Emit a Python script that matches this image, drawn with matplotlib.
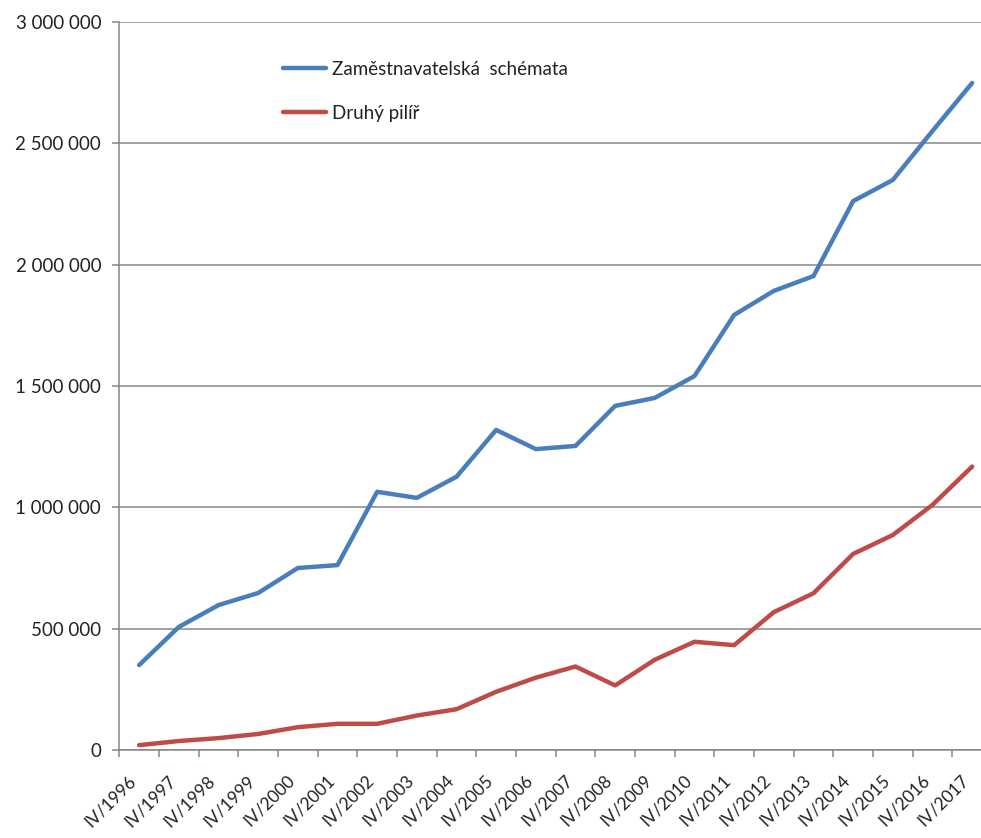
import matplotlib.pyplot as plt
from matplotlib.ticker import FuncFormatter, MultipleLocator

years = [f"IV/{y}" for y in range(1996, 2018)]
zamestnavatelska = [350000, 507000, 597000, 647000, 750000, 762000, 1064000, 1039000,
                    1126000, 1319000, 1240000, 1253000, 1418000, 1451000, 1541000,
                    1793000, 1892000, 1953000, 2262000, 2349000, 2551000, 2749000]
druhy_pilir = [20000, 37000, 49000, 66000, 94000, 108000, 108000, 142000, 168000,
               240000, 298000, 344000, 266000, 372000, 446000, 432000, 568000,
               646000, 808000, 886000, 1010000, 1168000]

plt.rcParams["font.family"] = ["Lato", "DejaVu Sans"]

fig = plt.figure(figsize=(9.81, 8.38), dpi=100)
ax = fig.add_axes((119.3 / 981, 1 - 750 / 838, 872.7 / 981, 728 / 838))

x = range(len(years))
ax.plot(x, zamestnavatelska, color="#4A7EBB", lw=3.2, label="Zaměstnavatelská  schémata",
        solid_capstyle="round")
ax.plot(x, druhy_pilir, color="#BE4B48", lw=3.2, label="Druhý pilíř", solid_capstyle="round")

ax.set_xlim(-0.5, len(years) - 0.5)
ax.set_ylim(0, 3000000)
ax.yaxis.set_major_locator(MultipleLocator(500000))
ax.yaxis.set_major_formatter(FuncFormatter(lambda v, p: f"{int(v):,}".replace(",", " ")))
ax.grid(axis="y", color="#868686", lw=1.1)
ax.set_axisbelow(True)

ax.set_xticks([i - 0.5 for i in range(len(years) + 1)], minor=False)
ax.set_xticklabels([])
ax.set_xticks(list(x), minor=True)
ax.set_xticklabels(years, minor=True, rotation=45, ha="right", va="top", fontsize=12.5,
                   color="#222222")
ax.tick_params(axis="x", which="minor", length=0, pad=16)
ax.tick_params(axis="x", which="major", length=5, width=1.1, color="#868686")
ax.tick_params(axis="y", length=5, width=1.1, color="#868686", labelsize=13.5, pad=8,
               labelcolor="#222222")

for s in ["top", "right"]:
    ax.spines[s].set_visible(False)
for s in ["left", "bottom"]:
    ax.spines[s].set_color("#868686")
    ax.spines[s].set_linewidth(1.1)

ax.legend(loc="upper left", bbox_to_anchor=(0.1876, 0.947), frameon=False, borderpad=0,
          borderaxespad=0, handlelength=2.3, handletextpad=0.3, labelspacing=1.45,
          fontsize=13.5, labelcolor="#222222")

fig.savefig("out.png", dpi=100)
